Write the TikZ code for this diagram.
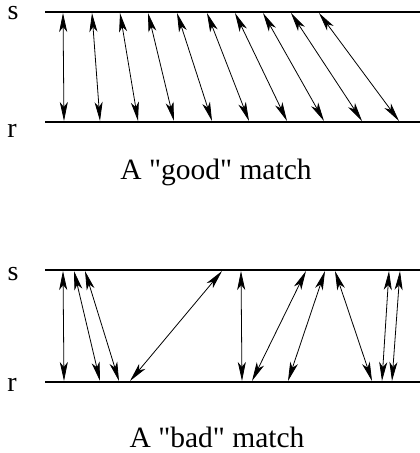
\documentclass[tikz,border=0pt]{standalone}
\usepackage{fontspec}
\setmainfont{Liberation Serif}[Ligatures=TeXOff]
\usetikzlibrary{arrows.meta}
\begin{document}
\begin{tikzpicture}[x=1pt,y=-1pt,>={Stealth[length=19pt,width=8pt,inset=5pt]},font=\fontsize{28}{33}\selectfont]
\useasboundingbox (0,0) rectangle (420,453);
\tikzset{seq/.style={line width=1.6pt}, pair/.style={<->,line width=0.8pt}, lbl/.style={anchor=base,inner sep=0pt}, caption/.style={lbl,font=\fontsize{29.5}{35}\selectfont}}
% good match
\node[lbl] (sg) at (13,19.5) {s}; \coordinate (sgL) at (45,12);  \coordinate (sgR) at (420,12);
\node[lbl] (rg) at (12,137) {r};  \coordinate (rgL) at (45,122); \coordinate (rgR) at (420,122);
\draw[seq] (sgL) -- (sgR); \draw[seq] (rgL) -- (rgR);
\foreach \T/\B [count=\i] in {63/64,92/100,120/138,148/174,177/212,207/249,235/287,263/324,291/362,319/399}{\coordinate (sg\i) at (\T,13); \coordinate (rg\i) at (\B,121); \draw[pair] (sg\i) -- (rg\i);}
\node[caption] (good) at (216,179) {A "good" match};
% bad match
\node[lbl] (sb) at (13,280) {s};  \coordinate (sbL) at (45,270); \coordinate (sbR) at (420,270);
\node[lbl] (rb) at (12,391) {r};  \coordinate (rbL) at (45,382); \coordinate (rbR) at (420,382);
\draw[seq] (sbL) -- (sbR); \draw[seq] (rbL) -- (rbR);
\foreach \T/\B [count=\i] in {63/64,74/100,85/119,222/130,241/242,306/252,325/288,335/372,389/382,400/392}{\coordinate (sb\i) at (\T,271); \coordinate (rb\i) at (\B,381); \draw[pair] (sb\i) -- (rb\i);}
\node[caption] (bad) at (217,447) {A "bad" match};
\end{tikzpicture}
\end{document}
